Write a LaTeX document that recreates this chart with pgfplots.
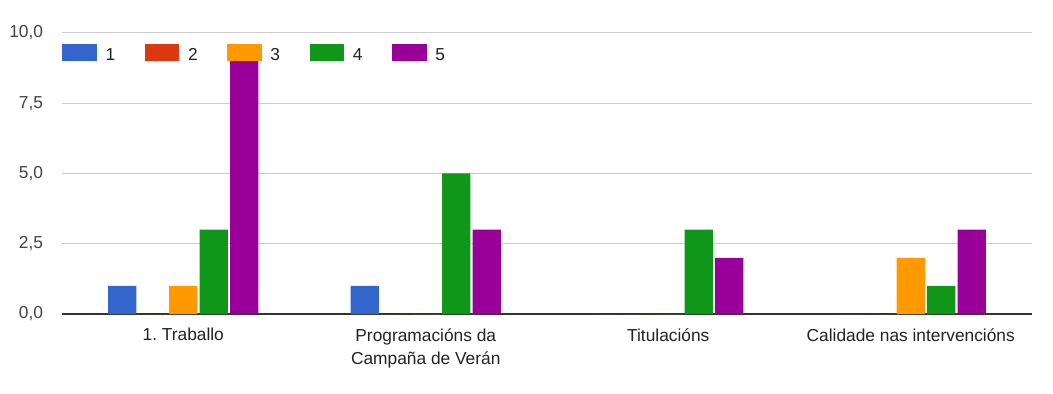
\documentclass[border=0pt]{standalone}
\usepackage{fontspec}
\setmainfont{Liberation Sans}
\usepackage{pgfplots}
\pgfplotsset{compat=1.18}
\definecolor{c1}{HTML}{3366CC}
\definecolor{c2}{HTML}{DC3912}
\definecolor{c3}{HTML}{FF9900}
\definecolor{c4}{HTML}{109618}
\definecolor{c5}{HTML}{990099}
\definecolor{gridc}{HTML}{CCCCCC}
\definecolor{basec}{HTML}{333333}
\definecolor{txt}{HTML}{222222}
\definecolor{ytxt}{HTML}{444444}
\frenchspacing
\begin{document}
\frenchspacing
\begin{tikzpicture}
\begin{axis}[
  scale only axis, width=727.5pt, height=210.75pt,
  ybar=1.7pt, bar width=21.2pt,
  xmin=-0.5, xmax=3.5, ymin=0, ymax=10,
  xtick={0,1,2,3},
  xticklabels={1. Traballo, {Programacións da\\Campaña de Verán}, Titulacións, Calidade nas intervencións},
  ytick={0,2.5,5,7.5,10},
  axis line style={draw=none},
  major tick length=0pt,
  ymajorgrids, grid style={draw=gridc, line width=0.75pt},
  extra y ticks={0}, extra y tick labels={},
  extra y tick style={grid style={draw=basec, line width=1.4pt}},
  /pgf/number format/.cd, fixed, fixed zerofill, precision=1, use comma, assume math mode=true,
  /pgfplots/.cd,
  yticklabel style={inner sep=0pt, anchor=east, xshift=-14pt, text=ytxt, font=\fontsize{13}{16}\selectfont},
  xticklabel style={inner sep=0pt, anchor=north, yshift=-10.5pt, align=center, text=txt, font=\fontsize{13}{17.3}\selectfont\frenchspacing},
  legend style={at={(0,1)}, anchor=north west, yshift=-8.25pt, draw=none, fill=none, inner sep=0pt,
    nodes={inner sep=0pt, text=txt}, font=\fontsize{13}{16}\selectfont,
    /tikz/every odd column/.append style={column sep=6.5pt},
    /tikz/every even column/.append style={column sep=22.1pt}},
  legend columns=-1,
  legend image code/.code={\fill[#1] (0pt,-4.2pt) rectangle (26pt,8.3pt);},
  clip=false,
]
\addplot[fill=c1, draw=none] coordinates {(0,1) (1,1) (2,0) (3,0)};
\addplot[fill=c2, draw=none] coordinates {(0,0) (1,0) (2,0) (3,0)};
\addplot[fill=c3, draw=none] coordinates {(0,1) (1,0) (2,0) (3,2)};
\addplot[fill=c4, draw=none] coordinates {(0,3) (1,5) (2,3) (3,1)};
\addplot[fill=c5, draw=none] coordinates {(0,9) (1,3) (2,2) (3,3)};
\legend{1,2,3,4,5}
\end{axis}
\pgfresetboundingbox
\path ([shift={(-46.5pt,-59.25pt)}]current axis.south west) rectangle ([shift={(15.75pt,24.75pt)}]current axis.north east);
\end{tikzpicture}
\end{document}
